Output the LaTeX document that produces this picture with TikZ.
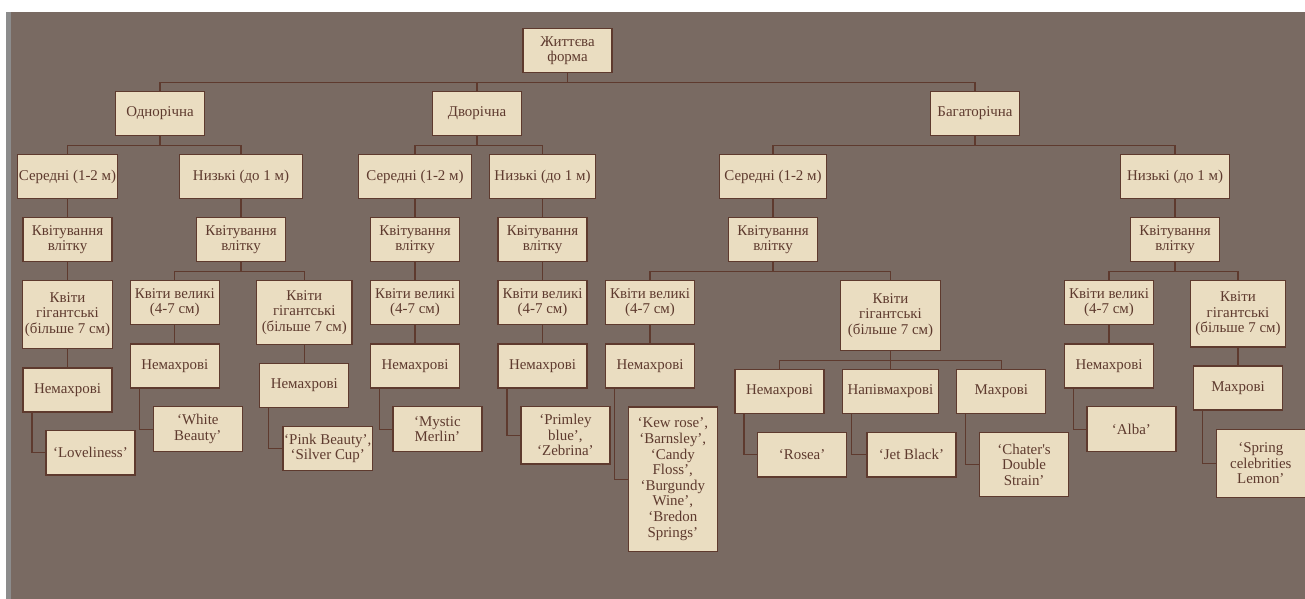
\documentclass[tikz,border=0pt]{standalone}
\usepackage{fontspec}
\setmainfont{Liberation Serif}

\definecolor{bgbrown}{RGB}{121,106,98}
\definecolor{stripgray}{RGB}{140,140,140}
\definecolor{boxfill}{RGB}{234,221,193}
\definecolor{boxline}{RGB}{94,58,46}
\newlength\px
\setlength\px{0.75pt}

\begin{document}
\begin{tikzpicture}[x=0.75pt, y=-0.75pt,
    every box/.style={draw=boxline, fill=boxfill, text=boxline, line width=0.9pt,
        align=center, anchor=north, inner sep=1pt,
        minimum width=89\px, minimum height=44\px,
        font=\fontsize{11.2}{11.7}\selectfont},
    link/.style={draw=boxline, line width=0.9pt}]

\useasboundingbox (0,0) rectangle (1305,599);
\fill [white] (0,0) rectangle (1305,599);
\fill [stripgray] (6,12) rectangle (11,599);
\fill [bgbrown] (11,12) rectangle (1305,599);

\node [every box] (root) at (567.5,28) {Життєва\\форма};

\foreach \n/\x/\t in {a/160/Однорічна, b/477/Дворічна, c/975/Багаторічна}
    \node [every box] (\n) at (\x,91) {\t};

\foreach \n/\x/\w/\t in {a1/67.5/100/{Середні (1-2 м)}, a2/241/123/{Низькі (до 1 м)},
        b1/415/113/{Середні (1-2 м)}, b2/542.5/106/{Низькі (до 1 м)},
        c1/773/107/{Середні (1-2 м)}, c2/1175/109/{Низькі (до 1 м)}}
    \node [every box, minimum width=\w\px] (\n) at (\x,154) {\t};

\foreach \n/\x in {a1/67.5, a2/241, b1/415, b2/542.5, c1/773, c2/1175}
    \node [every box] (summer-\n) at (\x,217) {Квітування\\влітку};

\foreach \n/\x in {a2/174.8, b1/415, b2/542.5, c1/650, c2/1109}
    \node [every box] (large-\n) at (\x,280) {Квіти великі\\(4-7 см)};

\foreach \n/\x/\w/\h in {a1/67.5/89.3/68, a2/304.3/95.3/63.7, c1/890.5/100.7/70, c2/1238/95.7/66.3}
    \node [every box, minimum width=\w\px, minimum height=\h\px] (giant-\n) at (\x,280)
        {Квіти\\гігантські\\(більше 7 см)};

\foreach \n/\x/\y/\w/\t in {a1-g/67.5/367.3/89/Немахрові, a2-l/174.8/343.3/89/Немахрові,
        a2-g/304.3/362.7/89/Немахрові, b1-l/415/343.3/89/Немахрові,
        b2-l/542.5/343.3/89/Немахрові, c1-l/650/343.3/89/Немахрові,
        c1-g1/779.5/368.7/89/Немахрові, c1-g2/890.5/368.7/96/Напівмахрові,
        c1-g3/1001.3/368.7/89/Махрові, c2-l/1109/343.3/89/Немахрові,
        c2-g/1238/365.3/89/Махрові}
    \node [every box, minimum width=\w\px] (kind-\n) at (\x,\y) {\t};

\foreach \n/\x/\y/\h/\t in {a1-g/45.3/430/44.3/{‘Loveliness’},
        a2-l/152.7/406/45/{‘White\\Beauty’},
        a2-g/282.3/425.7/44.3/{‘Pink Beauty’,\\‘Silver Cup’},
        b1-l/392.3/406/45/{‘Mystic\\Merlin’},
        b2-l/520.3/406/57.3/{‘Primley\\blue’,\\‘Zebrina’},
        c1-l/627.7/406.3/144.4/{‘Kew rose’,\\‘Barnsley’,\\‘Candy\\Floss’,\\‘Burgundy\\Wine’,\\‘Bredon\\Springs’},
        c1-g1/757/432/44.3/{‘Rosea’},
        c1-g2/866.3/432/44.3/{‘Jet Black’},
        c1-g3/979/432/64/{‘Chater\textquotesingle s\\Double\\Strain’},
        c2-l/1086.3/406/45/{‘Alba’},
        c2-g/1215.7/428.7/68/{‘Spring\\celebrities\\Lemon’}}
    \node [every box, anchor=north west, minimum height=\h\px] (sort-\n) at (\x,\y) {\t};

% tree links
\foreach \n in {a, b, c}
    \draw [link] (root.south) -- ++(0,9) -| (\n.north);

\foreach \n in {a, b, c}
    \foreach \m in {1, 2}
        \draw [link] (\n.south) -- ++(0,9.3) -| (\n\m.north);

\foreach \n in {a1, a2, b1, b2, c1, c2}
    \draw [link] (\n.south) -- (summer-\n.north);

\draw [link] (summer-a1.south) -- (giant-a1.north);
\foreach \n in {b1, b2}
    \draw [link] (summer-\n.south) -- (large-\n.north);
\foreach \n in {a2, c1, c2} {
    \draw [link] (summer-\n.south) -- ++(0,9.4) -| (large-\n.north);
    \draw [link] (summer-\n.south) -- ++(0,9.4) -| (giant-\n.north);
}

\foreach \n in {a2, b1, b2, c1, c2}
    \draw [link] (large-\n.south) -- (kind-\n-l.north);
\foreach \n in {a1, a2, c2}
    \draw [link] (giant-\n.south) -- (kind-\n-g.north);
\foreach \i in {1, 2, 3}
    \draw [link] (giant-c1.south) -- ++(0,9.3) -| (kind-c1-g\i.north);

% cultivar elbows
\foreach \n in {a1-g, a2-l, a2-g, b1-l, b2-l, c1-l, c1-g1, c1-g2, c1-g3, c2-l, c2-g}
    \draw [link] ([xshift=9.5\px]kind-\n.south west) |- (sort-\n.west);

\end{tikzpicture}
\end{document}
